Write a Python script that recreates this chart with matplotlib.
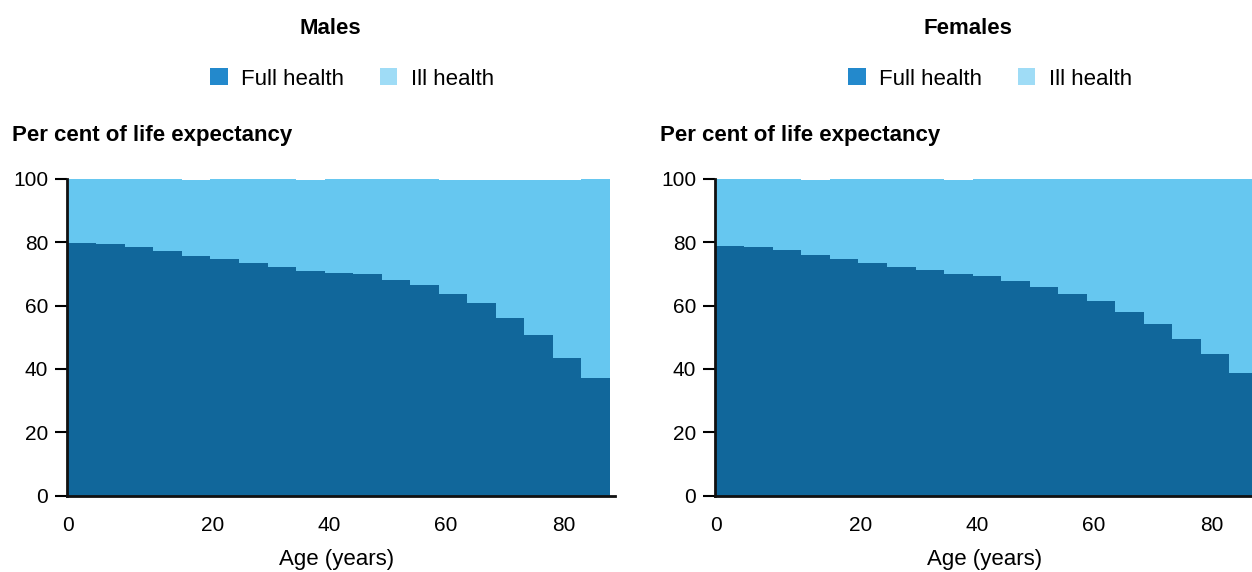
import numpy as np
import matplotlib.pyplot as plt
from matplotlib.patches import Patch

plt.rcParams['font.family'] = ['Liberation Sans', 'DejaVu Sans']

# age groups 0, 1-4, 5-9, ..., 80-84, 85+
age_groups = ['0', '1-4', '5-9', '10-14', '15-19', '20-24', '25-29', '30-34', '35-39',
              '40-44', '45-49', '50-54', '55-59', '60-64', '65-69', '70-74', '75-79',
              '80-84', '85+']

males_full = [79.9, 79.6, 78.6, 77.3, 75.7, 74.8, 73.5, 72.3, 71.0, 70.4,
              70.1, 68.2, 66.6, 63.8, 60.7, 56.2, 50.6, 43.3, 37.0]
males_ill = [20.1, 20.4, 21.4, 22.7, 24.0, 25.2, 26.5, 27.7, 28.7, 29.6,
             29.9, 31.8, 33.4, 36.0, 39.1, 43.6, 49.2, 56.5, 63.0]

females_full = [78.9, 78.6, 77.7, 76.1, 74.8, 73.6, 72.3, 71.4, 70.1, 69.2,
                67.9, 66.0, 63.8, 61.6, 58.1, 54.3, 49.6, 44.8, 38.8]
females_ill = [21.1, 21.4, 22.3, 23.6, 25.2, 26.4, 27.7, 28.6, 29.7, 30.8,
               32.1, 34.0, 36.2, 38.4, 41.9, 45.7, 50.4, 55.2, 61.2]

tick_labels = ['0', '20', '40', '60', '80']
tick_pos = [0.0, 5.08, 9.15, 13.25, 17.4]

full_col = '#11679b'
ill_col = '#66c7f0'
leg_full = '#2389cc'
leg_ill = '#9fdcf6'

fig = plt.figure(figsize=(12.52, 5.72), dpi=100)

panels = [
    ('Males', males_full, males_ill, 67, 330),
    ('Females', females_full, females_ill, 715, 968),
]

for title, full, ill, left_px, centre_px in panels:
    ax = fig.add_axes([left_px / 1252, (572 - 495.5) / 572, 548 / 1252, 316.5 / 572])
    x = np.arange(len(age_groups))
    ax.bar(x, full, width=1.0, align='edge', color=full_col, linewidth=0, antialiased=False)
    ax.bar(x, ill, width=1.0, align='edge', bottom=full, color=ill_col, linewidth=0, antialiased=False)
    ax.set_xlim(-0.03, 19.18)
    ax.set_ylim(0, 100)
    ax.set_yticks([0, 20, 40, 60, 80, 100])
    ax.set_xticks(tick_pos)
    ax.set_xticklabels(tick_labels)
    ax.tick_params(axis='y', length=8.5, width=1.5, labelsize=15, pad=5)
    ax.tick_params(axis='x', length=0, labelsize=15, pad=15)
    for s in ['top', 'right']:
        ax.spines[s].set_visible(False)
    for s in ['left', 'bottom']:
        ax.spines[s].set_linewidth(2)
        ax.spines[s].set_color('#111111')

    fig.text(centre_px / 1252, 1 - 29 / 572, title, ha='center', va='center',
             fontsize=16, fontweight='bold')
    fig.text((left_px - 55) / 1252, 1 - 136 / 572, 'Per cent of life expectancy',
             ha='left', va='center', fontsize=16, fontweight='bold')
    fig.text((left_px + 270) / 1252, 1 - 560 / 572, 'Age (years)',
             ha='center', va='center', fontsize=16)

    handles = [Patch(facecolor=leg_full, label='Full health'),
               Patch(facecolor=leg_ill, label='Ill health')]
    fig.legend(handles=handles, loc='center', ncol=2, frameon=False,
               bbox_to_anchor=((centre_px + 22) / 1252, 1 - 79 / 572),
               fontsize=16, handlelength=0.8, handleheight=0.8,
               handletextpad=0.6, columnspacing=1.6)

fig.savefig('out.png', dpi=100)
